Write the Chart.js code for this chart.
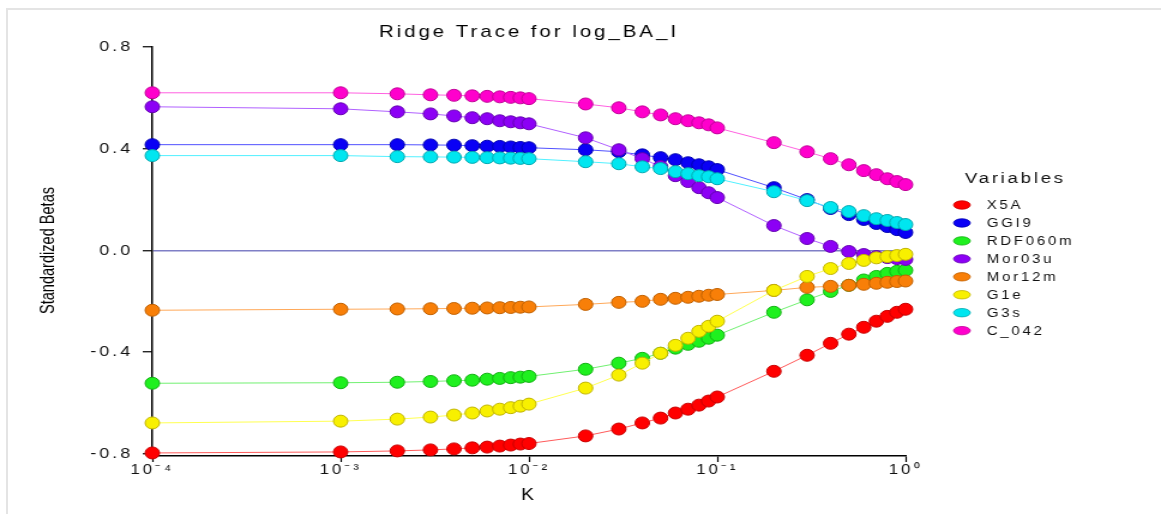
<!DOCTYPE html>
<html>
<head>
<meta charset="utf-8">
<script src="https://cdn.jsdelivr.net/npm/chart.js@4.4.1/dist/chart.umd.min.js"></script>
<style>
html,body{margin:0;padding:0;background:#fff;width:1161px;height:514px;overflow:hidden;}
#frame{position:absolute;left:6px;top:8px;width:1170px;height:520px;border-left:2px solid #e4e4e4;border-top:2px solid #e4e4e4;}
#c{position:absolute;left:0;top:0;transform-origin:0 0;transform:scaleX(1.19938);}
</style>
</head>
<body>
<div id="frame"></div>
<canvas id="c" width="968" height="514"></canvas>
<script>
// ---- data ----
const kValues = [0.0001, 0.001, 0.002, 0.003, 0.004, 0.005, 0.006, 0.007, 0.008, 0.009,
                 0.01, 0.02, 0.03, 0.04, 0.05, 0.06, 0.07, 0.08, 0.09,
                 0.1, 0.2, 0.3, 0.4, 0.5, 0.6, 0.7, 0.8, 0.9, 1.0];
const X5A     = [-0.796, -0.792, -0.788, -0.784, -0.780, -0.776, -0.773, -0.769, -0.765, -0.761,
                 -0.759, -0.729, -0.702, -0.678, -0.659, -0.639, -0.624, -0.608, -0.592,
                 -0.576, -0.475, -0.412, -0.365, -0.329, -0.302, -0.278, -0.259, -0.243, -0.231];
const GGI9    = [0.416, 0.416, 0.416, 0.415, 0.414, 0.412, 0.410, 0.409, 0.407, 0.405,
                 0.404, 0.396, 0.388, 0.376, 0.365, 0.357, 0.345, 0.337, 0.329,
                 0.318, 0.247, 0.200, 0.165, 0.141, 0.122, 0.106, 0.094, 0.082, 0.071];
const RDF060m = [-0.522, -0.520, -0.518, -0.515, -0.512, -0.510, -0.506, -0.503, -0.500, -0.498,
                 -0.495, -0.467, -0.443, -0.424, -0.404, -0.384, -0.369, -0.357, -0.345,
                 -0.333, -0.243, -0.194, -0.161, -0.137, -0.116, -0.102, -0.090, -0.082, -0.078];
const Mor03u  = [0.565, 0.557, 0.545, 0.537, 0.529, 0.522, 0.518, 0.510, 0.506, 0.502,
                 0.498, 0.443, 0.396, 0.361, 0.330, 0.294, 0.271, 0.247, 0.227,
                 0.208, 0.098, 0.047, 0.016, -0.004, -0.016, -0.024, -0.028, -0.032, -0.035];
const Mor12m  = [-0.235, -0.231, -0.230, -0.229, -0.228, -0.227, -0.226, -0.225, -0.224, -0.223,
                 -0.222, -0.212, -0.204, -0.200, -0.192, -0.188, -0.184, -0.180, -0.176,
                 -0.173, -0.157, -0.145, -0.141, -0.137, -0.133, -0.129, -0.125, -0.122, -0.120];
const G1e     = [-0.678, -0.671, -0.663, -0.655, -0.647, -0.639, -0.631, -0.624, -0.618, -0.612,
                 -0.604, -0.541, -0.490, -0.443, -0.404, -0.373, -0.345, -0.318, -0.298,
                 -0.278, -0.157, -0.102, -0.071, -0.051, -0.039, -0.029, -0.024, -0.020, -0.015];
const G3s     = [0.373, 0.373, 0.369, 0.368, 0.367, 0.366, 0.365, 0.364, 0.363, 0.362,
                 0.361, 0.349, 0.341, 0.329, 0.322, 0.310, 0.302, 0.294, 0.290,
                 0.282, 0.231, 0.196, 0.169, 0.153, 0.137, 0.125, 0.118, 0.110, 0.102];
const C_042   = [0.620, 0.620, 0.616, 0.612, 0.610, 0.608, 0.606, 0.604, 0.602, 0.600,
                 0.597, 0.576, 0.561, 0.545, 0.533, 0.518, 0.510, 0.502, 0.494,
                 0.482, 0.424, 0.388, 0.361, 0.337, 0.314, 0.298, 0.282, 0.271, 0.259];

const seriesNames  = ['X5A', 'GGI9', 'RDF060m', 'Mor03u', 'Mor12m', 'G1e', 'G3s', 'C_042'];
const seriesValues = [X5A, GGI9, RDF060m, Mor03u, Mor12m, G1e, G3s, C_042];

const xTicks      = [0.0001, 0.001, 0.01, 0.1, 1];
const xTickLabels = ['10\u207B\u2074', '10\u207B\u00B3', '10\u207B\u00B2', '10\u207B\u00B9', '10\u2070'];
const yTicks      = [-0.8, -0.4, 0.0, 0.4, 0.8];
const yTickLabels = ['-0.8', '-0.4', '0.0', '0.4', '0.8'];

const chartTitle  = 'Ridge Trace for log_BA_I';
const xTitle      = 'K';
const yTitle      = 'Standardized Betas';
const legendTitle = 'Variables';

// ---- styles ----
const fillColors = ['#ff0000', '#0a00f5', '#1ff01f', '#8c00f5', '#f87f08', '#f8f000', '#00e6f0', '#ff00cc'];
const edgeColors = ['#c80000', '#0000b0', '#12b012', '#6400b0', '#c06000', '#c0b400', '#00a8b0', '#c00098'];
const lineColors = ['#ff5a5a', '#5050ff', '#70f070', '#b060ff', '#ffa858', '#ffff50', '#50f0ff', '#ff60e0'];

Chart.defaults.font.family = '"Liberation Sans", Arial, sans-serif';

const spacingPlugin = {
  id: 'spacing',
  beforeDraw(chart) { chart.ctx.letterSpacing = '2.5px'; }
};

const extrasPlugin = {
  id: 'extras',
  afterDraw(chart) {
    const ctx = chart.ctx;
    const ca = chart.chartArea;
    // y-axis title
    ctx.save();
    ctx.letterSpacing = '0px';
    ctx.font = '17px "Liberation Sans Narrow", "Liberation Sans", Arial, sans-serif';
    const w = ctx.measureText(yTitle).width;
    ctx.translate(40, (ca.top + ca.bottom) / 2 - 1);
    ctx.rotate(-Math.PI / 2);
    ctx.scale(Math.min(1, 127 / w), 1);
    ctx.textAlign = 'center';
    ctx.textBaseline = 'middle';
    ctx.fillStyle = '#000';
    ctx.fillText(yTitle, 0, 0);
    ctx.restore();

    // legend
    ctx.save();
    ctx.letterSpacing = '2.3px';
    ctx.textBaseline = 'middle';
    ctx.textAlign = 'left';
    ctx.fillStyle = '#111';
    ctx.font = '15.5px "Liberation Sans", Arial, sans-serif';
    ctx.fillText(legendTitle, 804.5, 179);
    ctx.font = '12.5px "Liberation Sans", Arial, sans-serif';
    chart.data.datasets.forEach((ds, i) => {
      const y = 205 + i * 17.95;
      ctx.beginPath();
      ctx.ellipse(802, y, 7, 4.2, 0, 0, Math.PI * 2);
      ctx.fillStyle = fillColors[i];
      ctx.fill();
      ctx.lineWidth = 0.8;
      ctx.strokeStyle = edgeColors[i];
      ctx.stroke();
      ctx.fillStyle = '#111';
      ctx.fillText(ds.label, 822.7, y + 0.5);
    });
    ctx.restore();
  }
};

new Chart(document.getElementById('c'), {
  type: 'line',
  data: {
    datasets: seriesNames.map((name, i) => ({
      label: name,
      data: kValues.map((k, j) => ({ x: k, y: seriesValues[i][j] })),
      borderColor: lineColors[i],
      borderWidth: 1,
      backgroundColor: fillColors[i],
      pointBackgroundColor: fillColors[i],
      pointBorderColor: edgeColors[i],
      pointBorderWidth: 1,
      pointRadius: 6,
      pointHoverRadius: 6,
      tension: 0,
      clip: false,
      order: seriesNames.length - 1 - i
    }))
  },
  options: {
    responsive: false,
    animation: false,
    devicePixelRatio: 1,
    layout: { padding: { top: 0, left: 0, right: 213, bottom: 0 } },
    plugins: {
      legend: { display: false },
      tooltip: { enabled: false },
      title: {
        display: true, text: chartTitle, fullSize: false,
        font: { size: 17, weight: 'normal' }, color: '#000',
        padding: { top: 21.8, bottom: 4.8 }
      }
    },
    scales: {
      x: {
        type: 'logarithmic', min: 0.0001, max: 1,
        afterBuildTicks: s => { s.ticks = xTicks.map(v => ({ value: v })); },
        afterFit: s => { s.height = 58; },
        ticks: {
          callback: (v, idx) => xTickLabels[idx],
          font: { size: 14 }, color: '#111', padding: 0, maxRotation: 0, autoSkip: false
        },
        grid: { drawOnChartArea: false, tickLength: 6, tickColor: '#000', tickWidth: 1.2 },
        border: { color: '#000', width: 1.5 },
        title: { display: true, text: xTitle, font: { size: 16 }, color: '#000', padding: { top: 0, bottom: 9 } }
      },
      y: {
        min: -0.808, max: 0.8,
        afterBuildTicks: s => { s.ticks = yTicks.map(v => ({ value: v })); },
        afterFit: s => { s.width = 127; },
        ticks: {
          callback: (v, idx) => yTickLabels[idx],
          font: { size: 15 }, color: '#111', padding: 8
        },
        grid: {
          color: c => (c.tick && c.tick.value === 0) ? '#7f7fc6' : 'rgba(0,0,0,0)',
          lineWidth: 1.5, tickLength: 8, tickColor: '#000', tickWidth: 1.2
        },
        border: { color: '#000', width: 1.5 }
      }
    }
  },
  plugins: [spacingPlugin, extrasPlugin]
});
</script>
</body>
</html>
